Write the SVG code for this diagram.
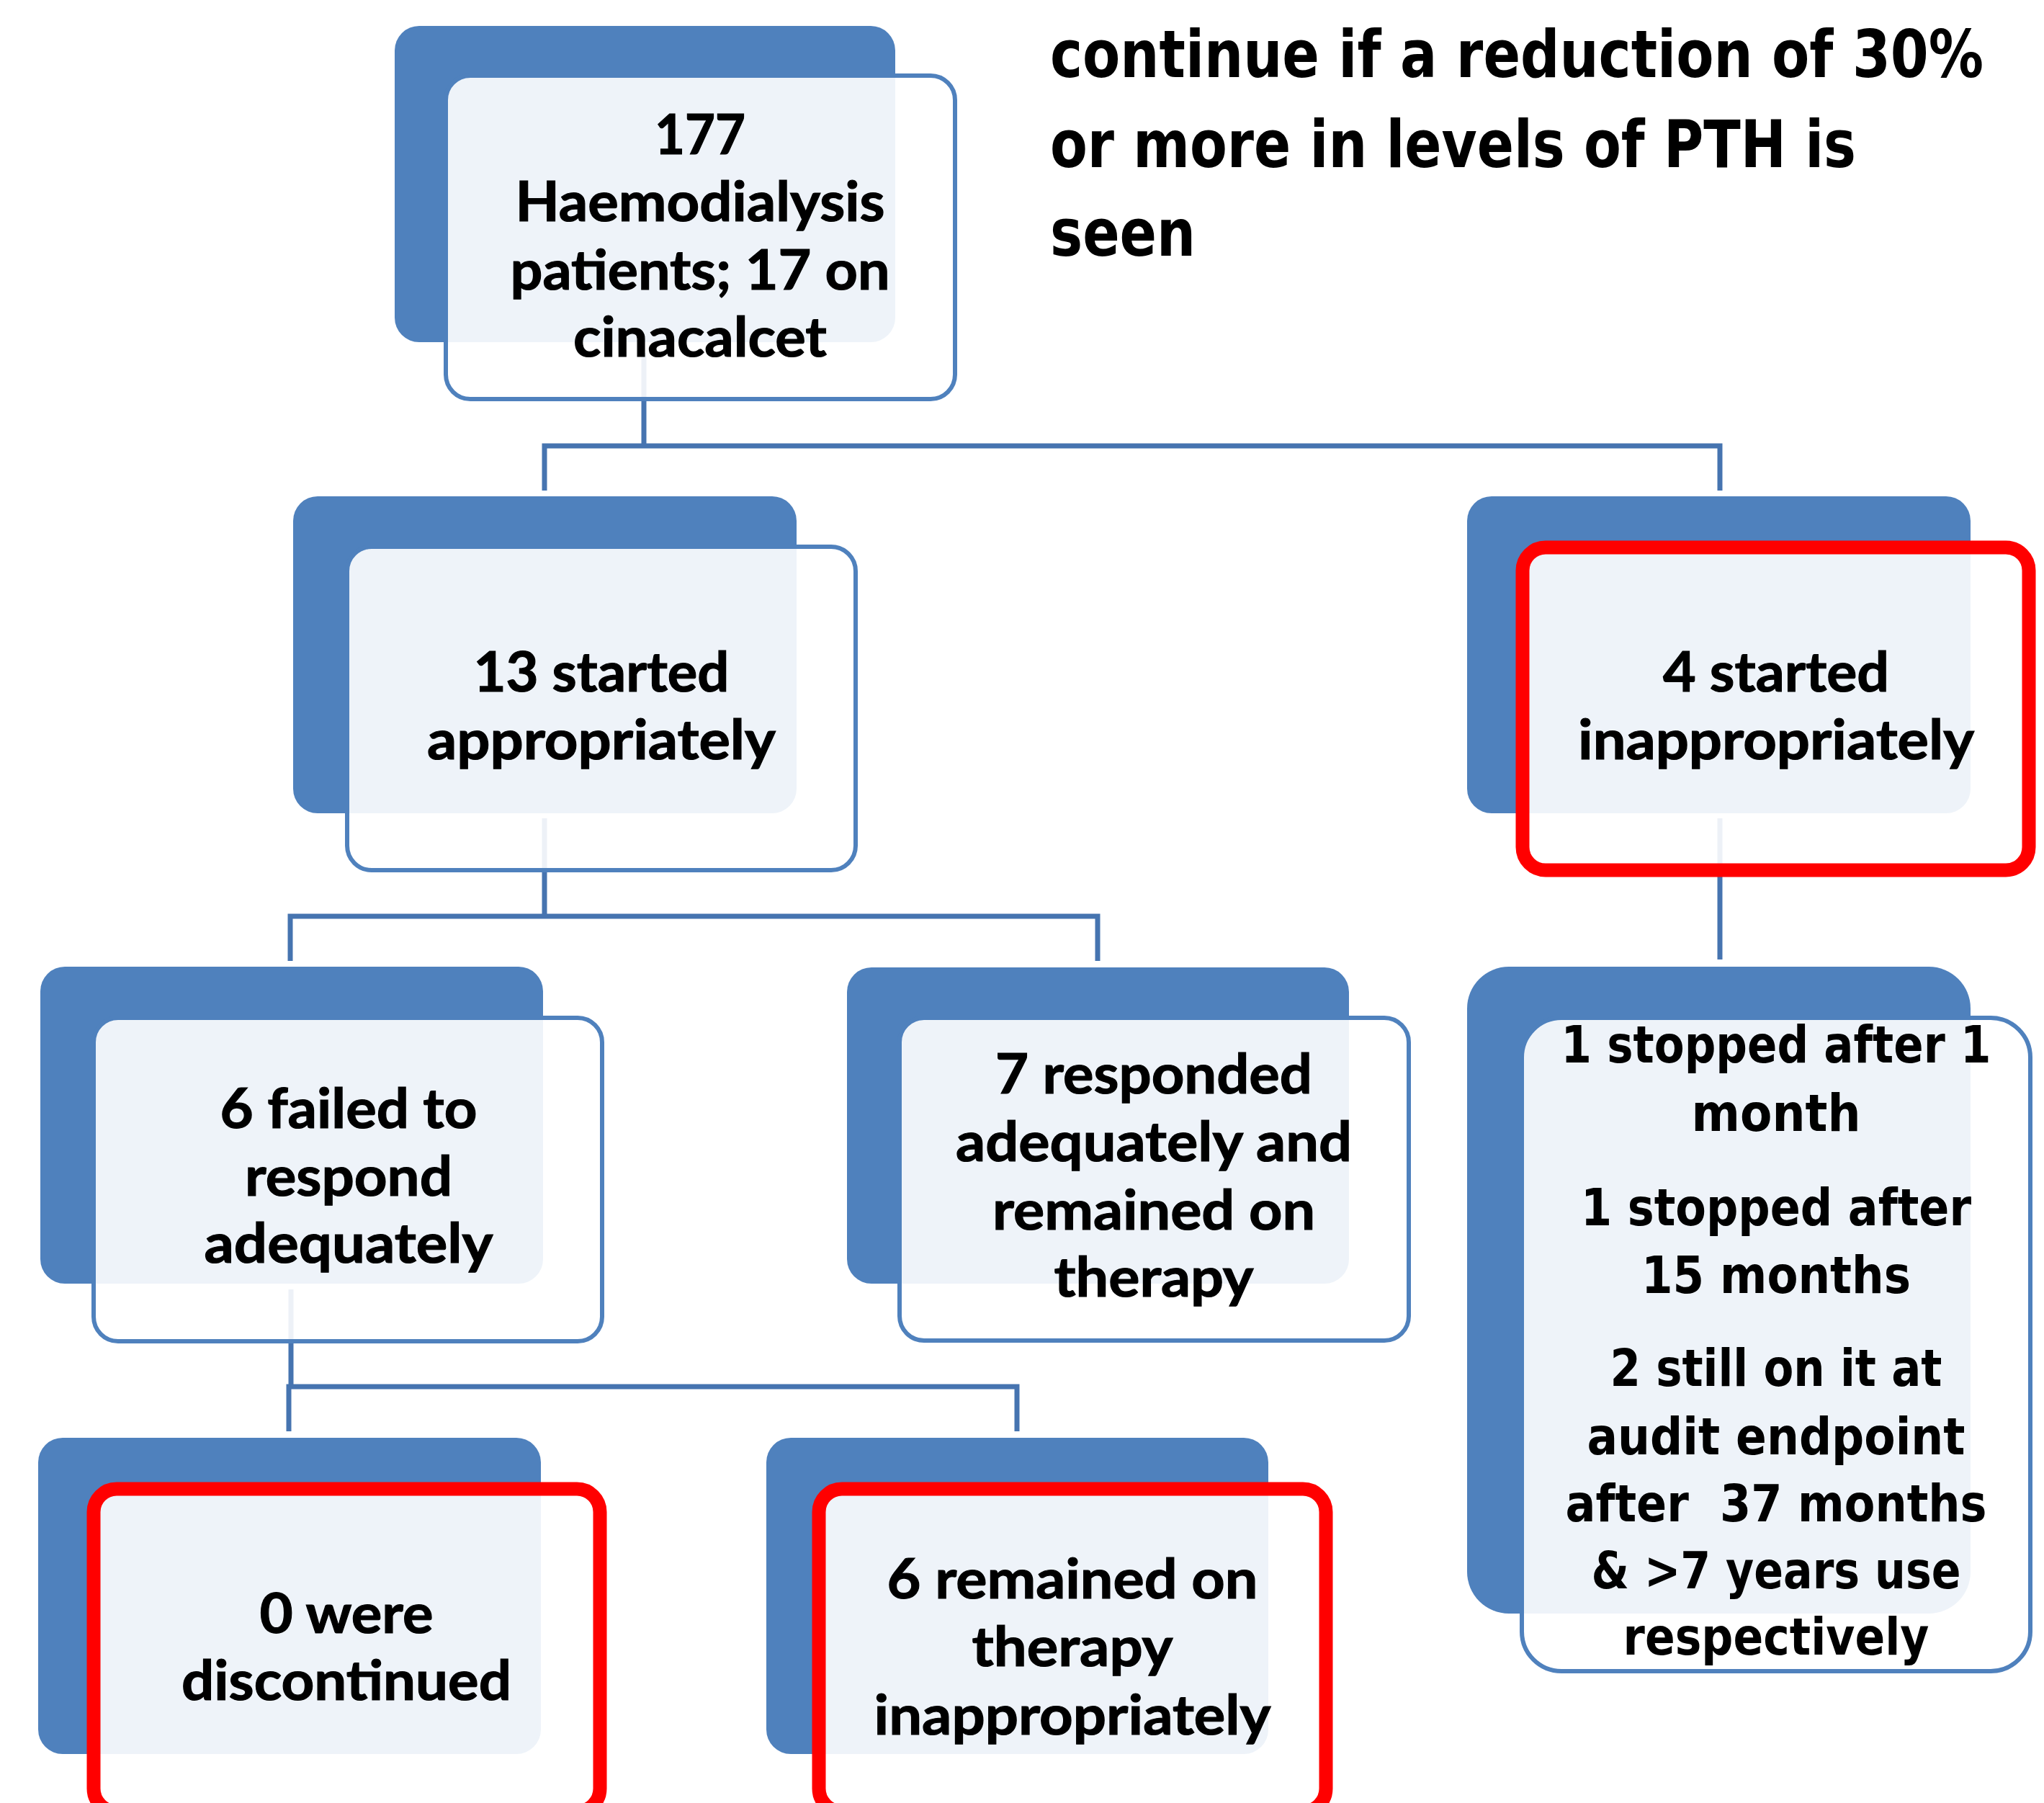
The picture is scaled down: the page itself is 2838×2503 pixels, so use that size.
<svg xmlns="http://www.w3.org/2000/svg" width="2838" height="2503" viewBox="0 0 2838 2503">
  <style>
    .dk { fill: #4F81BD; }
    .fr { fill: #FFFFFF; fill-opacity: 0.9; stroke: #4F81BD; stroke-width: 6; }
    .fr-red { fill: #FFFFFF; fill-opacity: 0.9; stroke: #FF0000; stroke-width: 19; }
    .conn { fill: none; stroke: #4674B0; stroke-width: 7; stroke-linejoin: miter; }
    .lbl { font-family: Lato, "Liberation Sans", sans-serif; font-weight: 700; font-size: 77px; fill: #000000; stroke: #000000; stroke-width: 1.2; text-anchor: middle; }
    .lbl-t { font-family: "DejaVu Sans", "Liberation Sans", sans-serif; font-weight: 700; font-size: 71px; fill: #000000; text-anchor: middle; }
    .note { font-family: "DejaVu Sans", "Liberation Sans", sans-serif; font-weight: 700; font-size: 90px; fill: #000000; }
  </style>

  <rect x="0" y="0" width="2838" height="2503" fill="#FFFFFF"/>

  <!-- guidance note, top right -->
  <g id="note">
    <text class="note" x="1458" y="107" textLength="1296" lengthAdjust="spacingAndGlyphs">continue if a reduction of 30%</text>
    <text class="note" x="1458" y="232" textLength="1119" lengthAdjust="spacingAndGlyphs">or more in levels of PTH is</text>
    <text class="note" x="1458" y="355" textLength="202" lengthAdjust="spacingAndGlyphs">seen</text>
  </g>

  <!-- elbow connectors (drawn beneath the nodes) -->
  <g id="connectors">
    <path class="conn" d="M894,490 V619 M756,681 V619 H2388 V681"/>
    <path class="conn" d="M756,1136 V1272 M403,1334 V1272 H1524 V1334"/>
    <path class="conn" d="M2388,1136 V1332"/>
    <path class="conn" d="M404,1790 V1925 M401,1987 V1925 H1412 V1987"/>
  </g>

  <g id="node-total">
    <rect class="dk" x="548" y="36" width="695" height="439" rx="34"/>
    <rect class="fr" x="619" y="105" width="707" height="449" rx="34"/>
    <text class="lbl" x="972" y="214" textLength="126" lengthAdjust="spacingAndGlyphs">177</text>
    <text class="lbl" x="972" y="307" textLength="513" lengthAdjust="spacingAndGlyphs">Haemodialysis</text>
    <text class="lbl" x="972" y="402" textLength="527" lengthAdjust="spacingAndGlyphs">patients; 17 on</text>
    <text class="lbl" x="972" y="495" textLength="352" lengthAdjust="spacingAndGlyphs">cinacalcet</text>
  </g>

  <g id="node-appropriate">
    <rect class="dk" x="407" y="689" width="699" height="440" rx="34"/>
    <rect class="fr" x="482" y="759" width="706" height="449" rx="34"/>
    <text class="lbl" x="835" y="960" textLength="355" lengthAdjust="spacingAndGlyphs">13 started</text>
    <text class="lbl" x="835" y="1054" textLength="484" lengthAdjust="spacingAndGlyphs">appropriately</text>
  </g>

  <g id="node-inappropriate">
    <rect class="dk" x="2037" y="689" width="699" height="440" rx="34"/>
    <rect class="fr-red" x="2114" y="760" width="703" height="448" rx="32"/>
    <text class="lbl" x="2466" y="960" textLength="314" lengthAdjust="spacingAndGlyphs">4 started</text>
    <text class="lbl" x="2466" y="1054" textLength="550" lengthAdjust="spacingAndGlyphs">inappropriately</text>
  </g>

  <g id="node-failed">
    <rect class="dk" x="56" y="1342" width="698" height="440" rx="34"/>
    <rect class="fr" x="130" y="1413" width="706" height="449" rx="34"/>
    <text class="lbl" x="484" y="1566" textLength="357" lengthAdjust="spacingAndGlyphs">6 failed to</text>
    <text class="lbl" x="484" y="1660" textLength="288" lengthAdjust="spacingAndGlyphs">respond</text>
    <text class="lbl" x="484" y="1753" textLength="401" lengthAdjust="spacingAndGlyphs">adequately</text>
  </g>

  <g id="node-responded">
    <rect class="dk" x="1176" y="1343" width="697" height="439" rx="34"/>
    <rect class="fr" x="1249" y="1413" width="707" height="448" rx="34"/>
    <text class="lbl" x="1602" y="1518" textLength="440" lengthAdjust="spacingAndGlyphs">7 responded</text>
    <text class="lbl" x="1602" y="1612" textLength="550" lengthAdjust="spacingAndGlyphs">adequately and</text>
    <text class="lbl" x="1602" y="1707" textLength="448" lengthAdjust="spacingAndGlyphs">remained on</text>
    <text class="lbl" x="1602" y="1800" textLength="277" lengthAdjust="spacingAndGlyphs">therapy</text>
  </g>

  <g id="node-outcomes">
    <rect class="dk" x="2037" y="1342" width="699" height="898" rx="58"/>
    <rect class="fr" x="2113" y="1413" width="706" height="907" rx="55"/>
    <text class="lbl-t" x="2466" y="1475" textLength="597" lengthAdjust="spacingAndGlyphs">1 stopped after 1</text>
    <text class="lbl-t" x="2466" y="1570" textLength="235" lengthAdjust="spacingAndGlyphs">month</text>
    <text class="lbl-t" x="2466" y="1701" textLength="542" lengthAdjust="spacingAndGlyphs">1 stopped after</text>
    <text class="lbl-t" x="2466" y="1795" textLength="374" lengthAdjust="spacingAndGlyphs">15 months</text>
    <text class="lbl-t" x="2466" y="1924" textLength="461" lengthAdjust="spacingAndGlyphs">2 still on it at</text>
    <text class="lbl-t" x="2466" y="2019" textLength="525" lengthAdjust="spacingAndGlyphs">audit endpoint</text>
    <text class="lbl-t" x="2466" y="2112" textLength="585" lengthAdjust="spacingAndGlyphs" xml:space="preserve">after  37 months</text>
    <text class="lbl-t" x="2466" y="2205" textLength="513" lengthAdjust="spacingAndGlyphs">&amp; &gt;7 years use</text>
    <text class="lbl-t" x="2466" y="2297" textLength="425" lengthAdjust="spacingAndGlyphs">respectively</text>
  </g>

  <g id="node-discontinued">
    <rect class="dk" x="53" y="1996" width="698" height="439" rx="34"/>
    <rect class="fr-red" x="130" y="2067" width="703" height="448" rx="32"/>
    <text class="lbl" x="481" y="2267" textLength="241" lengthAdjust="spacingAndGlyphs">0 were</text>
    <text class="lbl" x="481" y="2360" textLength="458" lengthAdjust="spacingAndGlyphs">discontinued</text>
  </g>

  <g id="node-remained">
    <rect class="dk" x="1064" y="1996" width="697" height="439" rx="34"/>
    <rect class="fr-red" x="1137" y="2067" width="704" height="448" rx="32"/>
    <text class="lbl" x="1489" y="2219" textLength="515" lengthAdjust="spacingAndGlyphs">6 remained on</text>
    <text class="lbl" x="1489" y="2313" textLength="279" lengthAdjust="spacingAndGlyphs">therapy</text>
    <text class="lbl" x="1489" y="2408" textLength="551" lengthAdjust="spacingAndGlyphs">inappropriately</text>
  </g>
</svg>
